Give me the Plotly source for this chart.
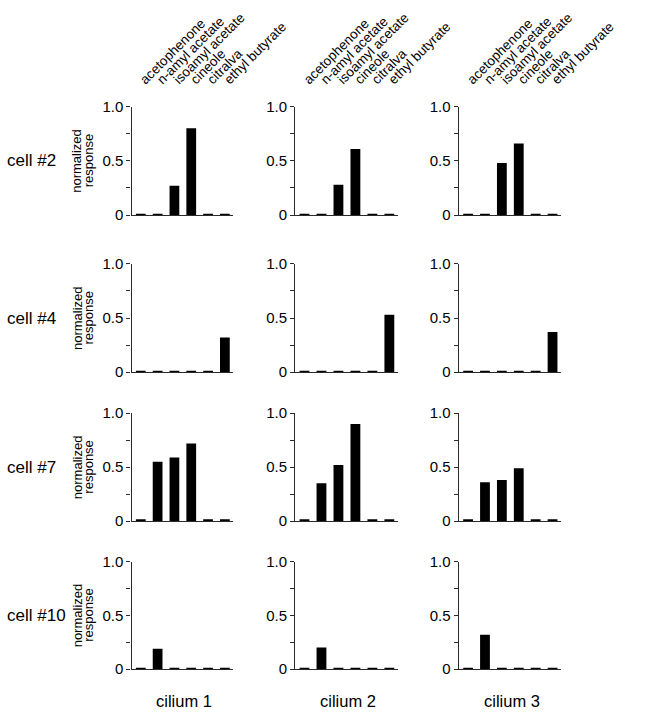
import plotly.graph_objects as go

# ---------------- data ----------------
odorants = ["acetophenone", "n-amyl acetate", "isoamyl acetate",
            "cineole", "citralva", "ethyl butyrate"]
cells = ["cell #2", "cell #4", "cell #7", "cell #10"]
cilia = ["cilium 1", "cilium 2", "cilium 3"]

# normalized responses [cell][cilium][odorant]
cell2_c1 = [0.01, 0.01, 0.27, 0.80, 0.01, 0.01]
cell2_c2 = [0.01, 0.01, 0.28, 0.61, 0.01, 0.01]
cell2_c3 = [0.01, 0.01, 0.48, 0.66, 0.01, 0.01]
cell4_c1 = [0.01, 0.01, 0.01, 0.01, 0.01, 0.32]
cell4_c2 = [0.01, 0.01, 0.01, 0.01, 0.01, 0.53]
cell4_c3 = [0.01, 0.01, 0.01, 0.01, 0.01, 0.37]
cell7_c1 = [0.01, 0.55, 0.59, 0.72, 0.01, 0.01]
cell7_c2 = [0.01, 0.35, 0.52, 0.90, 0.01, 0.01]
cell7_c3 = [0.01, 0.36, 0.38, 0.49, 0.01, 0.01]
cell10_c1 = [0.01, 0.19, 0.01, 0.01, 0.01, 0.01]
cell10_c2 = [0.01, 0.20, 0.01, 0.01, 0.01, 0.01]
cell10_c3 = [0.01, 0.32, 0.01, 0.01, 0.01, 0.012]

responses = [
    [cell2_c1, cell2_c2, cell2_c3],
    [cell4_c1, cell4_c2, cell4_c3],
    [cell7_c1, cell7_c2, cell7_c3],
    [cell10_c1, cell10_c2, cell10_c3],
]

y_tickvals = [0, 0.25, 0.5, 0.75, 1.0]
y_ticktext = ["0", "", "0.5", "", "1.0"]

# ---------------- layout geometry (pixels) ----------------
W, H = 660, 720
col_px = [(143.5, 254.5), (322, 434), (500.5, 612)]
row_px = [(100, 211), (261, 372), (414, 524.5), (566, 676)]

FONT = "Liberation Sans, Arial, Helvetica, sans-serif"
AXC = "#2a2a2a"

fig = go.Figure()
layout = dict(
    width=W, height=H, margin=dict(l=0, r=0, t=0, b=0),
    paper_bgcolor="white", plot_bgcolor="white",
    showlegend=False, bargap=0.42,
    font=dict(family=FONT, color="black"),
)

annotations = []
k = 0
for r in range(4):
    for c in range(3):
        k += 1
        xa = "x" if k == 1 else f"x{k}"
        ya = "y" if k == 1 else f"y{k}"
        xkey = "xaxis" if k == 1 else f"xaxis{k}"
        ykey = "yaxis" if k == 1 else f"yaxis{k}"
        x0, x1 = col_px[c]
        t, b = row_px[r]
        fig.add_trace(go.Bar(
            x=odorants, y=responses[r][c], xaxis=xa, yaxis=ya,
            marker=dict(color="black", line=dict(width=0)),
            hoverinfo="x+y",
        ))
        layout[xkey] = dict(
            domain=[x0 / W, x1 / W], anchor=ya, type="category",
            categoryorder="array", categoryarray=odorants,
            range=[-0.55, 5.5], showline=True, linecolor=AXC, linewidth=1.3,
            ticks="", showticklabels=False, showgrid=False, zeroline=False,
            fixedrange=True,
        )
        layout[ykey] = dict(
            domain=[1 - b / H, 1 - t / H], anchor=xa, range=[0, 1.0],
            tickmode="array", tickvals=y_tickvals, ticktext=y_ticktext,
            ticks="outside", ticklen=4, tickwidth=1.1, tickcolor=AXC,
            showline=True, linecolor=AXC, linewidth=1.3,
            showgrid=False, zeroline=False,
            tickfont=dict(size=15, family=FONT, color="black"),
            fixedrange=True,
        )

# top axes with odorant names for the first row
for c in range(3):
    k = 13 + c
    base = "x" if c == 0 else f"x{c + 1}"
    ya = "y" if c == 0 else f"y{c + 1}"
    x0, x1 = col_px[c]
    fig.add_trace(go.Scatter(
        x=odorants, y=[0] * len(odorants), xaxis=f"x{k}", yaxis=ya,
        mode="markers", marker=dict(opacity=0), hoverinfo="skip",
    ))
    layout[f"xaxis{k}"] = dict(
        domain=[x0 / W, x1 / W], overlaying=base, anchor=ya, side="top",
        type="category", categoryorder="array", categoryarray=odorants,
        range=[-0.55, 5.5], showline=False, ticks="", showgrid=False,
        zeroline=False, tickangle=-45, ticklabelstandoff=16,
        tickfont=dict(size=13.5, family=FONT, color="black"),
        fixedrange=True,
    )

# row labels and y-axis titles
for r in range(4):
    t, b = row_px[r]
    ymid = 1 - ((t + b) / 2) / H
    annotations.append(dict(
        text=cells[r], x=5 / W, y=ymid, xref="paper", yref="paper",
        xanchor="left", yanchor="middle", showarrow=False,
        font=dict(size=17, family=FONT, color="black"),
    ))
    annotations.append(dict(
        text="normalized", x=84 / W, y=ymid, xref="paper", yref="paper",
        xanchor="center", yanchor="middle", showarrow=False, textangle=-90,
        font=dict(size=13, family=FONT, color="black"),
    ))
    annotations.append(dict(
        text="response", x=96.5 / W, y=ymid, xref="paper", yref="paper",
        xanchor="center", yanchor="middle", showarrow=False, textangle=-90,
        font=dict(size=13, family=FONT, color="black"),
    ))

# column labels
for c in range(3):
    x0, x1 = col_px[c]
    annotations.append(dict(
        text=cilia[c], x=((x0 + x1) / 2 + 2) / W, y=1 - 709 / H,
        xref="paper", yref="paper", xanchor="center", yanchor="middle",
        showarrow=False, font=dict(size=16.5, family=FONT, color="black"),
    ))

layout["annotations"] = annotations
fig.update_layout(**layout)
fig.write_html("out.html",
               config={"displayModeBar": False},
               post_script="document.body.style.margin='0';")
